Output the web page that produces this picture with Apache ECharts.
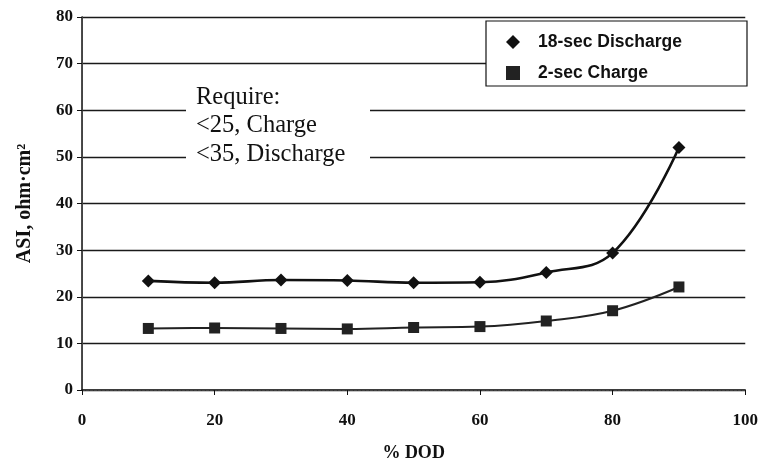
<!DOCTYPE html>
<html>
<head>
<meta charset="utf-8">
<script src="https://cdn.jsdelivr.net/npm/echarts@6/dist/echarts.min.js"></script>
<style>
  html, body { margin: 0; padding: 0; background: #fff; }
  #chart { width: 761px; height: 467px; }
</style>
</head>
<body>
<div id="chart"></div>
<script>
// Depth of discharge (%) at which area-specific impedance was measured
const dod = [10, 20, 30, 40, 50, 60, 70, 80, 90];
// ASI, ohm·cm², for each pulse type
const discharge18s = [23.4, 23.0, 23.6, 23.5, 23.0, 23.1, 25.2, 29.4, 52.0];
const charge2s = [13.2, 13.3, 13.2, 13.1, 13.4, 13.6, 14.8, 17.0, 22.1];
const xTicks = [0, 20, 40, 60, 80, 100];
const yTicks = [0, 10, 20, 30, 40, 50, 60, 70, 80];
const requirementLines = ['Require:', '<25, Charge', '<35, Discharge'];

const serif = '"Liberation Serif", "Times New Roman", serif';
const sans = '"Liberation Sans", Arial, sans-serif';
const ink = '#111';

const chart = echarts.init(document.getElementById('chart'), null, { renderer: 'canvas' });

const pairs = (ys) => dod.map((x, i) => [x, ys[i]]);

chart.setOption({
  animation: false,
  backgroundColor: '#fff',
  grid: { left: 82, right: 12, top: 17, bottom: 74, containLabel: false },
  xAxis: [{
    type: 'value',
    min: xTicks[0], max: xTicks[xTicks.length - 1], interval: 20,
    name: '% DOD', nameLocation: 'middle', nameGap: 54,
    nameTextStyle: { fontFamily: serif, fontWeight: 'bold', fontSize: 18, color: ink },
    axisLine: { lineStyle: { color: ink, width: 1.5 } },
    axisTick: { show: true, length: 5, lineStyle: { color: ink } },
    axisLabel: { margin: 22, fontFamily: serif, fontWeight: 'bold', fontSize: 17, color: ink },
    splitLine: { show: false }
  }, {
    type: 'value', position: 'top', min: 0, max: 100,
    axisLine: { show: true, lineStyle: { color: '#444', width: 1, type: [3, 1] } },
    axisTick: { show: false }, axisLabel: { show: false }, splitLine: { show: false }
  }],
  yAxis: [{
    type: 'value',
    min: yTicks[0], max: yTicks[yTicks.length - 1], interval: 10,
    name: 'ASI, ohm·cm²', nameLocation: 'middle', nameGap: 47, nameRotate: 90,
    nameTextStyle: { fontFamily: serif, fontWeight: 'bold', fontSize: 20, color: ink },
    axisLine: { show: true, lineStyle: { color: ink, width: 1.5 } },
    axisTick: { show: true, length: 5, lineStyle: { color: ink } },
    axisLabel: { margin: 9, fontFamily: serif, fontWeight: 'bold', fontSize: 17, color: ink },
    splitLine: { show: true, lineStyle: { color: '#1a1a1a', width: 1.3 } }
  }, {
    type: 'value', position: 'right', min: 0, max: 80,
    axisLine: { show: true, lineStyle: { color: '#444', width: 1, type: [3, 1] } },
    axisTick: { show: false }, axisLabel: { show: false }, splitLine: { show: false }
  }],
  legend: {
    orient: 'vertical',
    left: 501, top: 28,
    itemWidth: 14, itemHeight: 14, itemGap: 13,
    textStyle: { fontFamily: sans, fontWeight: 'bold', fontSize: 17.5, color: ink, padding: [0, 0, 0, 13] },
    data: [
      { name: '18-sec Discharge', icon: 'diamond' },
      { name: '2-sec Charge', icon: 'rect' }
    ],
    z: 10
  },
  graphic: [
    {
      type: 'rect', z: 5,
      shape: { x: 486, y: 21, width: 261, height: 65 },
      style: { fill: '#fff', stroke: ink, lineWidth: 1.2 }
    },
    {
      type: 'rect', z: 5,
      shape: { x: 186, y: 76, width: 184, height: 102 },
      style: { fill: '#fff', stroke: null }
    },
    {
      type: 'text', z: 6, left: 196, top: 83,
      style: {
        text: requirementLines.join('\n'),
        font: '24.5px ' + serif, fill: ink, lineHeight: 28.5
      }
    }
  ],
  series: [
    {
      name: '18-sec Discharge', type: 'line',
      data: pairs(discharge18s), smooth: 0.4,
      symbol: 'diamond', symbolSize: 13,
      lineStyle: { color: ink, width: 2.6 },
      itemStyle: { color: ink }, z: 3
    },
    {
      name: '2-sec Charge', type: 'line',
      data: pairs(charge2s), smooth: 0.4,
      symbol: 'rect', symbolSize: 11,
      lineStyle: { color: '#222', width: 2 },
      itemStyle: { color: '#222' }, z: 3
    }
  ]
});
</script>
</body>
</html>
